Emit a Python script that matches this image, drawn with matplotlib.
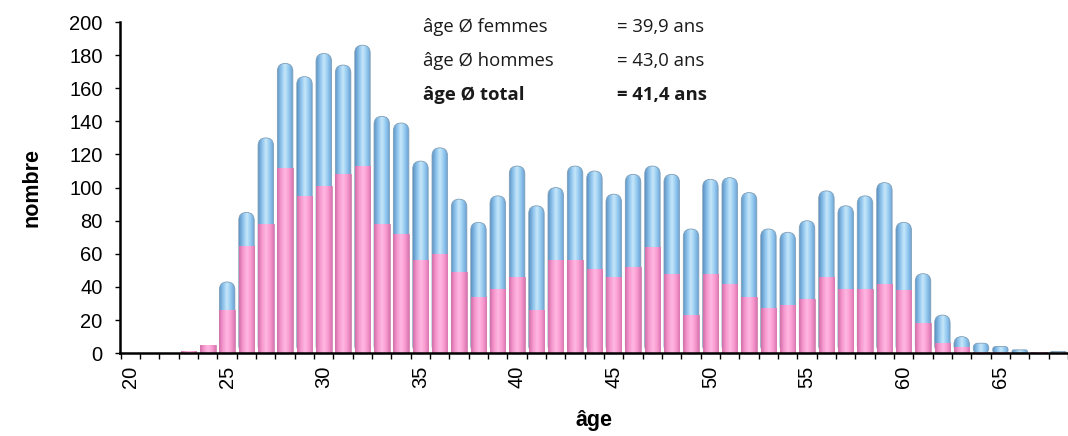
import numpy as np
import matplotlib.pyplot as plt
from matplotlib.patches import FancyBboxPatch
from matplotlib.colors import LinearSegmentedColormap

ages = list(range(20, 69))
femmes = [0, 0, 0, 1.5, 5, 26, 65, 78, 112, 95, 101, 108, 113, 78, 72, 56, 60, 49,
          34, 39, 46, 26, 56, 56, 51, 46, 52, 64, 48, 23, 48, 42, 34, 27, 29, 33,
          46, 39, 39, 42, 38, 18, 6, 4, 1, 1, 0, 0.5, 0]
hommes = [0, 0, 0, 0, 0, 17, 20, 52, 63, 72, 80, 66, 73, 65, 67, 60, 64, 44,
          45, 56, 67, 63, 44, 57, 59, 50, 56, 49, 60, 52, 57, 64, 63, 48, 44, 47,
          52, 50, 56, 61, 41, 30, 17, 6, 5, 3, 2, 0, 1]
labels_x = ['20', '25', '30', '35', '40', '45', '50', '55', '60', '65']

stats_lbl = ['âge Ø femmes', 'âge Ø hommes', 'âge Ø total']
stats_val = ['= 39,9 ans', '= 43,0 ans', '= 41,4 ans']

blue_cm = LinearSegmentedColormap.from_list(
    'b', ['#5e93c4', '#8cc2ec', '#c6e8fa', '#92c8ef', '#6a9fd0'])
pink_cm = LinearSegmentedColormap.from_list(
    'p', ['#d26fa8', '#f798cf', '#ffb8e2', '#f99cd2', '#da77b0'])
grad = np.linspace(0, 1, 64).reshape(1, -1)

plt.rcParams['font.family'] = ['Liberation Sans', 'DejaVu Sans']

fig = plt.figure(figsize=(10.68, 4.36), dpi=100)
ax = fig.add_axes([0.1124, 0.19, 0.8876, 0.7595])

x = np.arange(len(ages))
w = 0.8
# rounding: vertical units per horizontal unit (19.49 px / 1.655 px)
asp = 19.49 / 1.655
tot = np.array(femmes) + np.array(hommes)

for i in range(len(ages)):
    t = tot[i]
    if hommes[i] > 0:
        dr = min(w / 2, t / (2 * asp))
        p = FancyBboxPatch((x[i] - w / 2, 0), w, t,
                           boxstyle='round,pad=0,rounding_size=%f' % dr,
                           mutation_aspect=asp, facecolor='none',
                           edgecolor='#7f9fb8', lw=0.6, zorder=2)
        ax.add_patch(p)
        im = ax.imshow(grad, cmap=blue_cm, aspect='auto', zorder=1.5,
                       extent=[x[i] - w / 2, x[i] + w / 2, 0, t])
        im.set_clip_path(p)

bars = ax.bar(x, femmes, width=w, color='#f794cc', edgecolor='#c97aa8',
              lw=0.5, zorder=3)
for b in bars:
    if b.get_height() > 0:
        im = ax.imshow(grad, cmap=pink_cm, aspect='auto', zorder=3.5,
                       extent=[b.get_x(), b.get_x() + b.get_width(), 0, b.get_height()])
        im.set_clip_path(b)

ax.set_xlim(-0.54, 48.1)
ax.set_ylim(0, 200)

for s in ['top', 'right']:
    ax.spines[s].set_visible(False)
ax.spines['left'].set_linewidth(1.8)
ax.spines['bottom'].set_linewidth(1.8)
ax.spines['left'].set_zorder(5)
ax.spines['bottom'].set_zorder(5)

ax.set_yticks(np.arange(0, 201, 20))
ax.tick_params(axis='y', direction='out', length=3.6, width=1, labelsize=14.5, pad=9)
ax.set_xticks([ages.index(int(l)) for l in labels_x])
ax.set_xticklabels(labels_x, rotation=90)
ax.set_xticks(np.arange(-0.5, len(ages), 1), minor=True)
ax.tick_params(axis='x', which='major', length=0, labelsize=14.5, pad=9)
ax.tick_params(axis='x', which='minor', direction='out', length=4, width=1)

ax.set_ylabel('nombre', fontsize=15.5, fontweight='bold', labelpad=19)
ax.set_xlabel('âge', fontsize=15.5, fontweight='bold', labelpad=16)

for k in range(3):
    fw = 'bold' if k == 2 else 'normal'
    yy = 27 + 34 * k
    fig.text(423 / 1068, 1 - yy / 436, stats_lbl[k], fontsize=13.3, fontweight=fw,
             family='Open Sans', va='center', ha='left', color='#1a1a1a')
    fig.text(617 / 1068, 1 - yy / 436, stats_val[k], fontsize=13.3, fontweight=fw,
             family='Open Sans', va='center', ha='left', color='#1a1a1a')

fig.savefig('out.png', dpi=100)
